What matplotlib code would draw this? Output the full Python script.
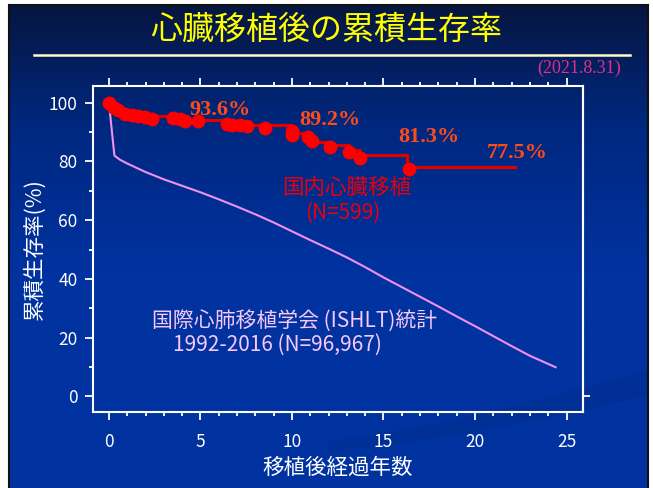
import numpy as np
import matplotlib
matplotlib.use("Agg")
import matplotlib.pyplot as plt
from matplotlib.colors import LinearSegmentedColormap
from matplotlib.ticker import MultipleLocator

plt.rcParams['font.family'] = ['Noto Sans CJK JP', 'DejaVu Sans']

# ---- data ----
# Japanese heart transplant KM curve (step line)
km_t = [0, 0.15, 0.35, 0.65, 1.0, 1.4, 1.8, 2.2, 3.5, 3.9, 4.3, 6.4, 6.8, 7.4,
        9.95, 10.8, 11.2, 12.1, 13.1, 13.7, 16.3, 22.2]
km_s = [100, 99.0, 98.0, 97.0, 96.4, 96.0, 95.7, 95.5, 95.0, 94.5, 94.0, 93.3,
        92.9, 92.5, 89.8, 88.5, 86.6, 85.5, 83.8, 82.3, 78.1, 78.1]
# dots on the Japanese curve
dot_t = [0, 0.24, 0.51, 0.87, 1.24, 1.6, 1.97, 2.33, 3.52, 3.88, 4.16, 4.89,
         6.44, 6.71, 7.17, 7.53, 8.53, 9.99, 9.99, 10.9, 11.1, 12.09, 13.1,
         13.7, 16.37]
dot_s = [100, 98.5, 97.4, 96.3, 95.9, 95.5, 95.1, 94.6, 94.8, 94.3, 93.7, 93.7,
         92.9, 92.5, 92.5, 92.0, 91.4, 90.3, 88.9, 88.3, 86.8, 84.9, 83.2,
         81.3, 77.3]
# ISHLT registry curve
ishlt_t = [0, 0.3, 0.6, 1.0, 2, 3, 4, 5, 6, 7, 8, 9, 10, 11, 12, 13, 14, 15,
           16, 17, 18, 19, 20, 21, 22, 23, 24.4]
ishlt_s = [100, 82, 80.6, 79.3, 76.4, 73.9, 71.7, 69.5, 67.1, 64.6, 62.0, 59.2,
           56.2, 53.2, 50.3, 47.3, 44.0, 40.5, 37.2, 33.9, 30.6, 27.2, 23.9,
           20.5, 17.1, 13.8, 9.9]
# rate labels
rate_labels = ["93.6%", "89.2%", "81.3%", "77.5%"]
rate_x = [6.07, 12.08, 17.47, 22.3]
rate_y = [97.4, 94.1, 88.2, 82.8]

x_ticks = [0, 5, 10, 15, 20, 25]
y_ticks = [0, 20, 40, 60, 80, 100]

W, H = 653, 488
fig = plt.figure(figsize=(W / 100, H / 100), dpi=100, facecolor='white')

# slide background gradient
bg = fig.add_axes([9 / W, 0, (648 - 9) / W, (488 - 5) / H])
cmap = LinearSegmentedColormap.from_list(
    'bg', [(0, '#0033a0'), (0.45, '#0032a0'), (0.75, '#00287f'), (0.9, '#041d5a'), (1.0, '#06163f')])
grad = np.linspace(0, 1, 256).reshape(-1, 1)
bg.imshow(grad, aspect='auto', cmap=cmap, origin='lower', extent=[0, 1, 0, 1])
bg.set_xlim(0, 1)
bg.set_ylim(0, 1)
# faint decorative swooshes
xs = np.linspace(0.50, 1.0, 100)
bg.fill_between(xs, 0.08 + 0.30 * (xs - 0.50) ** 1.4, 0.10 + 0.36 * (xs - 0.50) ** 1.3,
                color='#002c8c', alpha=0.45, lw=0)
for s in ['left', 'top', 'right']:
    bg.spines[s].set_color('#101010')
    bg.spines[s].set_linewidth(1.5)
bg.spines['bottom'].set_visible(False)
bg.set_xticks([])
bg.set_yticks([])

# title
fig.text(326 / W, (H - 30) / H, '心臓移植後の累積生存率', color='#ffff00',
         fontsize=23, ha='center', va='center')
fig.add_artist(plt.Line2D([34 / W, 630 / W], [(H - 54.5) / H, (H - 54.5) / H],
                          color='#fffcc8', lw=1.8))
fig.text(621 / W, (H - 68) / H, '(2021.8.31)', color='#e0308a', fontsize=13,
         family='Liberation Serif', ha='right', va='center')

# main axes
ax = fig.add_axes([93 / W, (H - 412) / H, (583 - 93) / W, (412 - 86) / H])
ax.patch.set_alpha(0)
ax.set_xlim(-0.87, 25.9)
ax.set_ylim(-5.35, 105.7)

ax.plot(ishlt_t, ishlt_s, color='#f090f0', lw=1.5, zorder=2)
ax.plot(km_t, km_s, color='#e00000', lw=2.3, drawstyle='steps-post', zorder=3)
ax.plot(dot_t, dot_s, 'o', color='#ff0000', ms=10, mec='none', zorder=4)

for lab, x, y in zip(rate_labels, rate_x, rate_y):
    ax.text(x, y, lab, color='#ff4a1a', fontsize=16, fontweight='bold',
            family='Liberation Serif', ha='center', va='center', zorder=5)

ax.text(12.96, 71.0, '国内心臓移植', color='#e8000c', fontsize=15.5,
        ha='center', va='center')
ax.text(12.8, 62.4, '(N=599)', color='#e8000c', fontsize=15,
        ha='center', va='center')
ax.text(2.35, 25.3, '国際心肺移植学会 (ISHLT)統計', color='#f8c8f8', fontsize=15,
        ha='left', va='center')
ax.text(3.5, 17.5, '1992-2016 (N=96,967)', color='#f8c8f8', fontsize=15,
        ha='left', va='center')

ax.set_xticks(x_ticks)
ax.set_yticks(y_ticks)
ax.xaxis.set_minor_locator(MultipleLocator(1))
ax.yaxis.set_minor_locator(MultipleLocator(10))
for s in ax.spines.values():
    s.set_color('white')
    s.set_linewidth(1.5)
ax.tick_params(axis='both', which='both', direction='out', colors='white', width=1.3)
ax.tick_params(axis='x', which='both', top=True, labeltop=False)
ax.tick_params(axis='x', which='major', length=6, pad=9, labelsize=12.5)
ax.tick_params(axis='x', which='minor', length=3)
ax.tick_params(axis='y', which='major', length=6, pad=5, labelsize=12.5)
ax.tick_params(axis='y', which='minor', length=3)

ax.set_xlabel('移植後経過年数', color='white', fontsize=15.5, labelpad=4)
ax.set_ylabel('累積生存率(%)', color='white', fontsize=15.5, labelpad=2)

sec = ax.secondary_yaxis('right')
sec.set_yticks([0])
sec.set_yticklabels([''])
sec.tick_params(direction='out', colors='white', length=5, width=1.3)
sec.spines['right'].set_color('white')
sec.spines['right'].set_linewidth(1.5)

fig.savefig('out.png', dpi=100, facecolor='white')
